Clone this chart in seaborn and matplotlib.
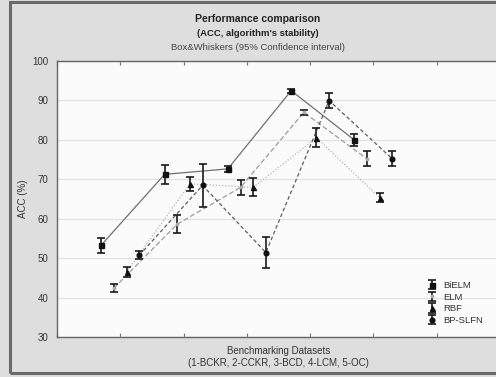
import numpy as np
import pandas as pd
import seaborn as sns
import matplotlib
matplotlib.use("Agg")
import matplotlib.pyplot as plt
from matplotlib.patches import Rectangle

# ---- data ----
datasets = [1, 2, 3, 4, 5]
algorithms = ["BiELM", "ELM", "RBF", "BP-SLFN"]
bielm_acc = [53.3, 71.2, 72.6, 92.4, 79.9]
bielm_ci = [1.9, 2.4, 0.7, 0.5, 1.6]
elm_acc = [42.4, 58.6, 67.9, 86.9, 75.1]
elm_ci = [1.0, 2.2, 1.9, 0.7, 1.9]
rbf_acc = [46.5, 68.8, 67.9, 80.5, 65.3]
rbf_ci = [1.3, 1.8, 2.3, 2.4, 1.1]
bpslfn_acc = [50.7, 68.4, 51.4, 89.9, 75.1]
bpslfn_ci = [1.0, 5.4, 4.0, 1.9, 1.9]

acc = {"BiELM": bielm_acc, "ELM": elm_acc, "RBF": rbf_acc, "BP-SLFN": bpslfn_acc}
ci = {"BiELM": bielm_ci, "ELM": elm_ci, "RBF": rbf_ci, "BP-SLFN": bpslfn_ci}

# ---- style ----
offsets = {"BiELM": -0.3, "ELM": -0.1, "RBF": 0.1, "BP-SLFN": 0.3}
line_colors = {"BiELM": "#707070", "ELM": "#9c9c9c", "RBF": "#b4b4b4", "BP-SLFN": "#5e5e5e"}
dashes = {"BiELM": "", "ELM": (4, 2), "RBF": (1, 1.5), "BP-SLFN": (3, 2)}
markers = {"BiELM": "s", "ELM": ".", "RBF": "^", "BP-SLFN": "o"}
marker_sizes = {"BiELM": 3.6, "ELM": 3.5, "RBF": 3.6, "BP-SLFN": 3.4}
marker_colors = {"BiELM": "#111111", "ELM": "#aaaaaa", "RBF": "#111111", "BP-SLFN": "#111111"}

rows = []
for a in algorithms:
    for d, v, e in zip(datasets, acc[a], ci[a]):
        rows.append({"Algorithm": a, "Dataset": d, "pos": d + offsets[a], "ACC": v, "CI": e})
df = pd.DataFrame(rows)

sns.set_theme(style="white")
plt.rcParams["font.family"] = ["Liberation Sans", "DejaVu Sans"]

W, H = 496, 377
fig = plt.figure(figsize=(W / 100, H / 100), dpi=100, facecolor="#dedede")
ax = fig.add_axes([57 / W, 1 - 337 / H, 443 / W, (337 - 60.7) / H])
ax.set_facecolor("#fbfbfb")

sns.lineplot(data=df, x="pos", y="ACC", hue="Algorithm", style="Algorithm",
             palette=line_colors, dashes=dashes, markers=False, linewidth=0.9,
             legend=False, ax=ax, zorder=2)

handles = []
for a in algorithms:
    sub = df[df["Algorithm"] == a]
    h = ax.errorbar(sub["pos"], sub["ACC"], yerr=sub["CI"], fmt=markers[a],
                    ms=marker_sizes[a], mfc=marker_colors[a], mec=marker_colors[a],
                    ecolor="#1a1a1a", elinewidth=1.2, capsize=3.2, capthick=1.2,
                    linestyle="none", zorder=3, label=a)
    handles.append(h)

ax.set_xlim(0, 7)
ax.set_ylim(30, 100)
ax.set_yticks(np.arange(30, 101, 10))
ax.set_xticks(np.arange(0, 8, 1))
ax.set_xticklabels([])
ax.grid(axis="y", color="#e4e4e4", linewidth=1.0)
ax.set_axisbelow(True)
ax.tick_params(axis="y", direction="in", length=3, width=0.8, labelsize=7, colors="#555555",
               labelcolor="#333333", pad=6)
ax.tick_params(axis="x", direction="in", length=3, width=0.8, top=True, bottom=True,
               colors="#777777")
for s in ax.spines.values():
    s.set_color("#666666")
    s.set_linewidth(1.0)

ax.set_ylabel("ACC (%)", fontsize=7, color="#333333", labelpad=3)
ax.set_xlabel("Benchmarking Datasets\n(1-BCKR, 2-CCKR, 3-BCD, 4-LCM, 5-OC)", fontsize=7,
              color="#333333", labelpad=3, linespacing=1.3)

fig.text(258 / W, 1 - 18.5 / H, "Performance comparison", ha="center", va="center",
         fontsize=7.5, fontweight="bold", color="#222222")
fig.text(258 / W, 1 - 33 / H, "(ACC, algorithm's stability)", ha="center", va="center",
         fontsize=6.8, fontweight="bold", color="#222222")
fig.text(258 / W, 1 - 48 / H, "Box&Whiskers (95% Confidence interval)", ha="center", va="center",
         fontsize=6.8, color="#444444")

leg = ax.legend(handles=handles, labels=algorithms, loc="upper left",
                bbox_to_anchor=(426 / W, 1 - 281 / H), bbox_transform=fig.transFigure,
                frameon=False, fontsize=6.8, handlelength=1.3, handletextpad=0.5,
                labelspacing=0.28, borderaxespad=0, borderpad=0)
for t in leg.get_texts():
    t.set_color("#333333")

fig.patches.append(Rectangle((10 / W, 1 - 373 / H), 500 / W, 371 / H, transform=fig.transFigure,
                             fill=False, edgecolor="#6a6a6a", linewidth=2.2, zorder=0))

fig.savefig("out.png", dpi=100, facecolor=fig.get_facecolor())
